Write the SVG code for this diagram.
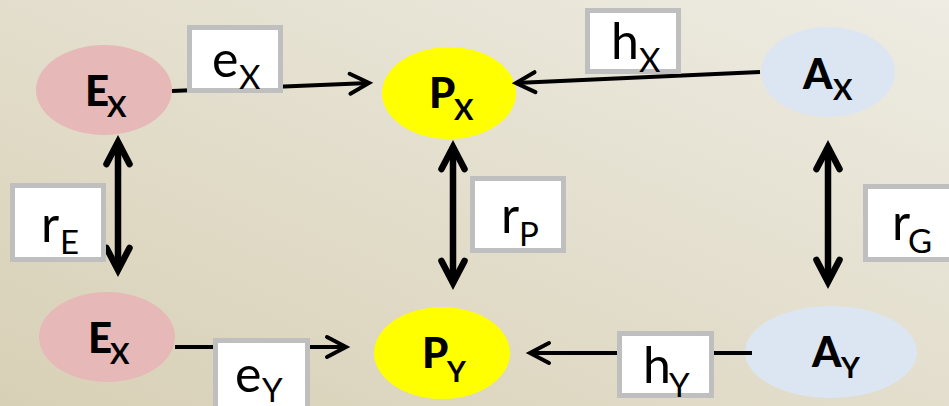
<svg xmlns="http://www.w3.org/2000/svg" width="949" height="406" viewBox="0 0 949 406">
<defs>
<linearGradient id="bg" x1="1" y1="0" x2="0" y2="1">
<stop offset="0" stop-color="#EEECE3"/>
<stop offset="1" stop-color="#D8D0B6"/>
</linearGradient>
<marker id="ah" markerUnits="userSpaceOnUse" viewBox="-26 -16 36 32" refX="0" refY="0" markerWidth="36" markerHeight="32" orient="auto-start-reverse">
<path d="M-19,-10 L0,0 L-19,10" fill="none" stroke="#000" stroke-width="4" stroke-linecap="round" stroke-linejoin="miter"/>
</marker>
<marker id="ahb" markerUnits="userSpaceOnUse" viewBox="-32 -20 48 40" refX="0" refY="0" markerWidth="48" markerHeight="40" orient="auto-start-reverse">
<path d="M-22,-11.5 L0,0 L-22,11.5" fill="none" stroke="#000" stroke-width="6.5" stroke-linecap="round" stroke-linejoin="miter"/>
</marker>
</defs>
<style>
.nt{font-family:Lato,"Open Sans","Liberation Sans",sans-serif;font-weight:900;font-size:42px;fill:#000}
.ns{font-size:29px;font-weight:bold}
.lt{font-family:Lato,"Open Sans","Liberation Sans",sans-serif;font-size:50px;fill:#000}
.ls{font-size:33px}
.box{fill:#fff;stroke:#BFBFBF;stroke-width:5}
.thin{fill:none;stroke:#000;stroke-width:4;marker-end:url(#ah)}
.thick{fill:none;stroke:#000;stroke-width:6.5;marker-start:url(#ahb);marker-end:url(#ahb)}
</style>
<rect x="0" y="0" width="949" height="406" fill="url(#bg)"/>

<g id="node-ex-top">
<ellipse cx="104" cy="90" rx="68" ry="45" fill="#E6B8B7"/>
<text class="nt" x="85" y="106">E<tspan class="ns" x="107" y="117">X</tspan></text>
</g>
<g id="node-px">
<ellipse cx="449" cy="93" rx="67" ry="46" fill="#FFFF00"/>
<text class="nt" x="429" y="108">P<tspan class="ns" x="454" y="120">X</tspan></text>
</g>
<g id="node-ax">
<ellipse cx="828" cy="72" rx="67" ry="45" fill="#DCE6F2"/>
<text class="nt" x="803" y="89">A<tspan class="ns" x="833" y="100">X</tspan></text>
</g>
<g id="node-ex-bottom">
<ellipse cx="107" cy="337" rx="68" ry="45" fill="#E6B8B7"/>
<text class="nt" x="88" y="353">E<tspan class="ns" x="110" y="364">X</tspan></text>
</g>
<g id="node-py">
<ellipse cx="442" cy="353" rx="68" ry="46" fill="#FFFF00"/>
<text class="nt" x="422" y="368">P<tspan class="ns" x="447" y="382">Y</tspan></text>
</g>
<g id="node-ay">
<ellipse cx="831" cy="352" rx="86" ry="46" fill="#DCE6F2"/>
<text class="nt" x="812" y="367">A<tspan class="ns" x="841" y="378">Y</tspan></text>
</g>

<g id="connectors">
<path class="thin" d="M172,91 L369,83"/>
<path class="thin" d="M760,72 L516,83"/>
<path class="thin" d="M175,347 L346,347"/>
<path class="thin" d="M752,353 L530,353"/>
<path class="thick" d="M118,142 L118,270"/>
<path class="thick" d="M453,147 L453,283"/>
<path class="thick" d="M828,147 L828,282"/>

<g id="label-ex">
<rect class="box" x="189.5" y="27.5" width="91" height="63"/>
<text class="lt" x="212" y="77">e<tspan class="ls" x="239" y="89">X</tspan></text>
</g>
<g id="label-hx">
<rect class="box" x="587.5" y="10.5" width="91" height="61"/>
<text class="lt" x="611" y="59">h<tspan class="ls" x="639" y="72">X</tspan></text>
</g>
<g id="label-re">
<rect class="box" x="12.5" y="185.5" width="91" height="74"/>
<text class="lt" x="41" y="242">r<tspan class="ls" x="60" y="254">E</tspan></text>
</g>
<g id="label-rp">
<rect class="box" x="472.5" y="178.5" width="91" height="72"/>
<text class="lt" x="501" y="233">r<tspan class="ls" x="519" y="246">P</tspan></text>
</g>
<g id="label-rg">
<rect class="box" x="865.5" y="186.5" width="100" height="73"/>
<text class="lt" x="892" y="240">r<tspan class="ls" x="908" y="253">G</tspan></text>
</g>
<g id="label-ey">
<rect class="box" x="215.5" y="340.5" width="92" height="80"/>
<text class="lt" x="235" y="392">e<tspan class="ls" x="262" y="402">Y</tspan></text>
</g>
<g id="label-hy">
<rect class="box" x="619.5" y="333.5" width="92" height="62"/>
<text class="lt" x="643" y="383">h<tspan class="ls" x="669" y="397">Y</tspan></text>
</g>
</g>
</svg>
